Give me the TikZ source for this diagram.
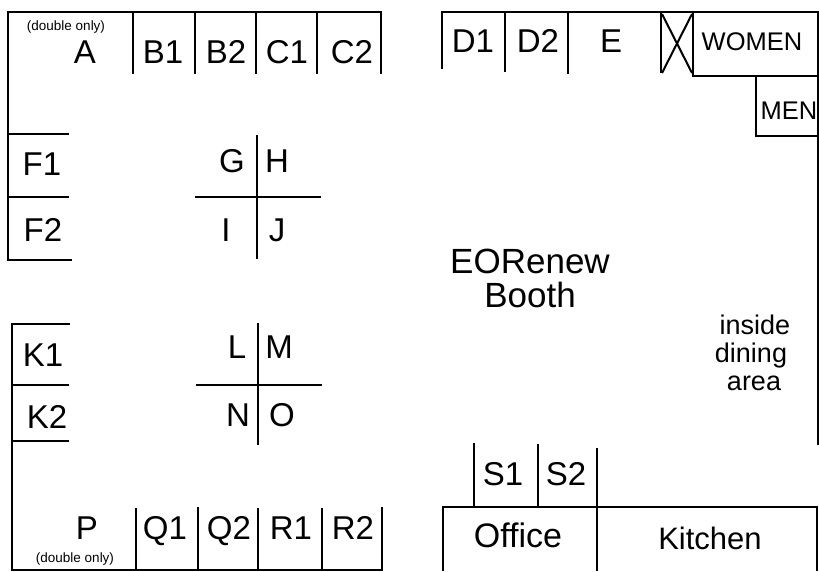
\documentclass[tikz,border=0pt]{standalone}
\usepackage{fontspec}
\setmainfont{Liberation Sans}

\tikzset{
    wall/.style = {line width = 2.8pt},
    thinwall/.style = {line width = 2pt},
    booth/.style = {anchor = base, inner sep = 0, font = \fontsize{33}{33}\selectfont},
    room/.style = {anchor = base, inner sep = 0, font = \fontsize{25.5}{26}\selectfont},
    area/.style = {anchor = base, inner sep = 0, font = \fontsize{27}{27}\selectfont},
    note/.style = {anchor = base, inner sep = 0, font = \fontsize{13.5}{14}\selectfont}
}

\begin{document}
\begin{tikzpicture} [x = 1pt, y = -1pt]
    \useasboundingbox (0, 0) rectangle (819, 571);

    % top left row
    \draw[wall] (8, 261) -- (8, 12) -- (382, 12);
    \draw[wall] (133, 12) -- (133, 74);
    \draw[wall] (195, 12) -- (195, 74);
    \draw[wall] (256, 12) -- (256, 74);
    \draw[wall] (317, 12) -- (317, 74);
    \draw[wall] (381, 12) -- (381, 74);
    \draw[wall] (8, 134) -- (69, 134);
    \draw[wall] (8, 197) -- (69, 197);
    \draw[wall] (8, 260) -- (72, 260);

    \node[note] (doubletop) at (66, 30) {(double only)};
    \node[booth] (a) at (85, 63) {A};
    \node[booth] (b1) at (163, 63) {B1};
    \node[booth] (b2) at (226, 63) {B2};
    \node[booth] (c1) at (287, 63) {C1};
    \node[booth] (c2) at (352, 63) {C2};
    \node[booth] (f1) at (42, 175) {F1};
    \node[booth] (f2) at (43, 241) {F2};

    % islands
    \draw[wall] (257, 135) -- (257, 259);
    \draw[wall] (195, 197) -- (321, 197);
    \node[booth] (g) at (232, 172) {G};
    \node[booth] (h) at (277, 172) {H};
    \node[booth] (i) at (226, 241) {I};
    \node[booth] (j) at (277, 241) {J};

    \draw[wall] (258, 323) -- (258, 445);
    \draw[wall] (196, 385) -- (322, 385);
    \node[booth] (l) at (237, 358) {L};
    \node[booth] (m) at (279, 358) {M};
    \node[booth] (n) at (238, 426) {N};
    \node[booth] (o) at (282, 426) {O};

    % bottom left row
    \draw[wall] (70, 324) -- (12, 324) -- (12, 570) -- (383, 570);
    \draw[wall] (12, 385) -- (69, 385);
    \draw[wall] (12, 441) -- (69, 441);
    \draw[wall] (136, 508) -- (136, 570);
    \draw[wall] (198, 507) -- (198, 570);
    \draw[wall] (258, 508) -- (258, 570);
    \draw[wall] (322, 508) -- (322, 570);
    \draw[wall] (382, 507) -- (382, 570);

    \node[booth] (k1) at (43, 366) {K1};
    \node[booth] (k2) at (47, 428) {K2};
    \node[booth] (p) at (87, 539) {P};
    \node[note] (doublebottom) at (75, 562) {(double only)};
    \node[booth] (q1) at (165, 539) {Q1};
    \node[booth] (q2) at (229, 539) {Q2};
    \node[booth] (r1) at (291, 539) {R1};
    \node[booth] (r2) at (353, 539) {R2};

    % top right row and rest rooms
    \draw[wall] (442, 69) -- (442, 12) -- (818, 12) -- (818, 445);
    \draw[wall] (505, 12) -- (505, 72);
    \draw[wall] (568, 12) -- (568, 74);
    \draw[wall] (661, 12) -- (661, 73);
    \draw[wall] (693, 12) -- (693, 76) -- (819, 76);
    \draw[thinwall] (662, 14) -- (692, 73);
    \draw[thinwall] (692, 14) -- (662, 73);
    \draw[wall] (756, 76) -- (756, 136) -- (819, 136);

    \node[booth] (d1) at (473, 52) {D1};
    \node[booth] (d2) at (538, 52) {D2};
    \node[booth] (e) at (611, 52) {E};
    \node[room] (women) at (752, 50) {WOMEN};
    \node[room] (men) at (789, 119) {MEN};

    \node[booth, font = \fontsize{35}{35}\selectfont] (eorenew) at (530, 273) {EORenew};
    \node[booth, font = \fontsize{35}{35}\selectfont] (boothlabel) at (530, 307) {Booth};

    \node[area] (inside) at (755, 334) {inside};
    \node[area] (dining) at (751, 362) {dining};
    \node[area] (arealabel) at (754, 390) {area};

    % office and kitchen
    \draw[wall] (443, 571) -- (443, 507) -- (817, 507) -- (817, 571);
    \draw[wall] (597, 448) -- (597, 571);
    \draw[wall] (474, 443) -- (474, 507);
    \draw[wall] (538, 444) -- (538, 507);

    \node[booth] (s1) at (503, 485) {S1};
    \node[booth] (s2) at (566, 485) {S2};
    \node[booth, font = \fontsize{34}{34}\selectfont] (office) at (518, 547) {Office};
    \node[booth, font = \fontsize{31}{31}\selectfont] (kitchen) at (710, 549) {Kitchen};
\end{tikzpicture}
\end{document}
